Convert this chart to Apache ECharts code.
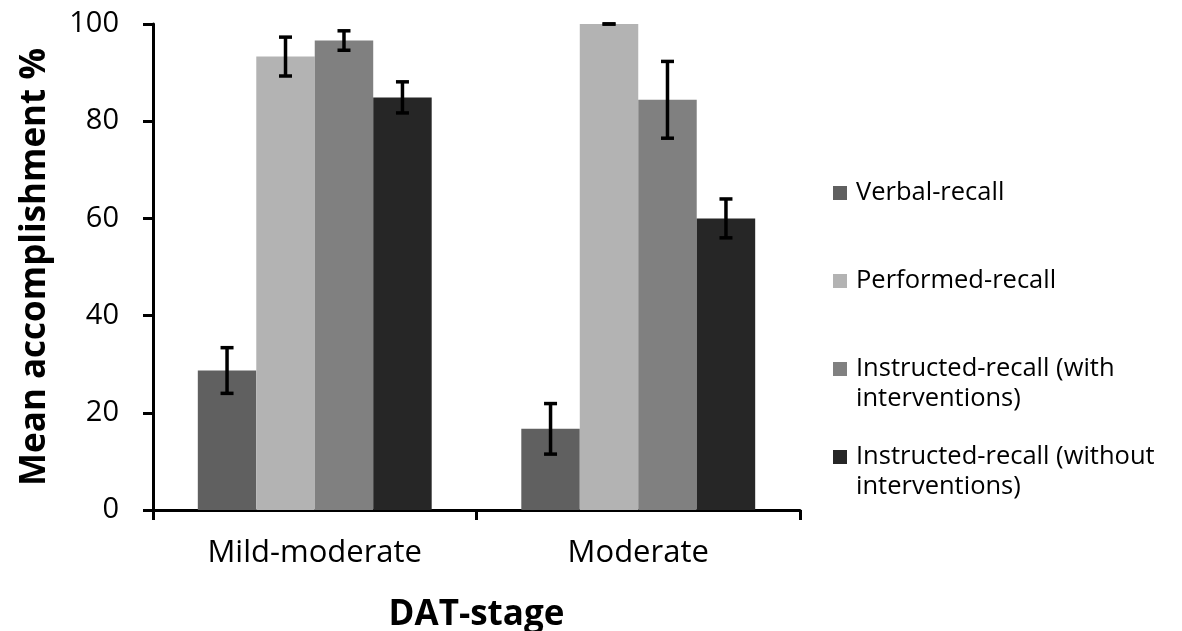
<!DOCTYPE html>
<html>
<head>
<meta charset="utf-8">
<script src="https://cdn.jsdelivr.net/npm/echarts@6/dist/echarts.min.js"></script>
<style>
  html, body { margin: 0; padding: 0; background: #ffffff; }
  #chart { width: 1182px; height: 631px; }
</style>
</head>
<body>
<div id="chart"></div>
<script>
// ---- data ----
const categories = ['Mild-moderate', 'Moderate'];
const seriesNames = [
  'Verbal-recall',
  'Performed-recall',
  'Instructed-recall (with\ninterventions)',
  'Instructed-recall (without\ninterventions)'
];
const verbalRecall = [28.7, 16.7];
const verbalRecallErr = [4.7, 5.2];
const performedRecall = [93.3, 100];
const performedRecallErr = [4.0, 0];
const instructedWith = [96.6, 84.4];
const instructedWithErr = [2.0, 7.9];
const instructedWithout = [84.9, 60.0];
const instructedWithoutErr = [3.2, 4.0];
const yTicks = [0, 20, 40, 60, 80, 100];

// ---- styling ----
const FONT = 'Open Sans';
const colors = ['#606060', '#b3b3b3', '#808080', '#262626'];
const CAT_GAP = 0.277;

const values = [verbalRecall, performedRecall, instructedWith, instructedWithout];
const errs = [verbalRecallErr, performedRecallErr, instructedWithErr, instructedWithoutErr];

const errData = [];
values.forEach((vals, si) => {
  vals.forEach((v, ci) => {
    errData.push([ci, si, v - errs[si][ci], v + errs[si][ci]]);
  });
});

const barSeries = values.map((vals, si) => ({
  name: seriesNames[si],
  type: 'bar',
  data: vals,
  barGap: '0%',
  barCategoryGap: (CAT_GAP * 100) + '%',
  itemStyle: { color: colors[si] },
  emphasis: { disabled: true },
  z: 2
}));

const errorSeries = {
  type: 'custom',
  name: 'err',
  data: errData,
  z: 10,
  silent: true,
  encode: { x: 0, y: [2, 3] },
  renderItem: function (params, api) {
    const ci = api.value(0);
    const si = api.value(1);
    const lo = api.coord([ci, api.value(2)]);
    const hi = api.coord([ci, api.value(3)]);
    const band = api.size([1, 0])[0];
    const barW = band * (1 - CAT_GAP) / 4;
    const x = lo[0] + (si - 1.5) * barW;
    const half = 6.5;
    const style = { stroke: '#000', lineWidth: 3.5, fill: null };
    return {
      type: 'group',
      children: [
        { type: 'line', shape: { x1: x, y1: lo[1], x2: x, y2: hi[1] }, style: style },
        { type: 'line', shape: { x1: x - half, y1: hi[1], x2: x + half, y2: hi[1] }, style: style },
        { type: 'line', shape: { x1: x - half, y1: lo[1], x2: x + half, y2: lo[1] }, style: style }
      ]
    };
  }
};

// icon centre y for each legend entry
const legendCentres = [193, 281, 369, 457];
const legends = seriesNames.map((name, i) => {
  const twoLine = name.indexOf('\n') >= 0;
  return {
    data: [name],
    left: 833,
    top: twoLine ? legendCentres[i] - 45 : legendCentres[i] - 15,
    orient: 'vertical',
    itemWidth: 14,
    itemHeight: 14,
    padding: 0,
    icon: 'rect',
    selectedMode: false,
    formatter: twoLine ? function (n) { return '\n' + n; } : '{name}',
    textStyle: {
      fontFamily: FONT,
      fontSize: 25.5,
      color: '#000',
      lineHeight: 30,
      padding: [0, 0, 0, 4]
    }
  };
});

const option = {
  backgroundColor: '#ffffff',
  animation: false,
  color: colors,
  legend: legends,
  grid: { left: 153, right: 382, top: 24, bottom: 121, outerBoundsMode: 'none', containLabel: false },
  xAxis: {
    type: 'category',
    data: categories,
    name: 'DAT-stage',
    nameLocation: 'middle',
    nameGap: 88,
    nameTextStyle: { fontFamily: FONT, fontSize: 35, fontWeight: 'bold', color: '#000' },
    axisLine: { lineStyle: { color: '#000', width: 3 } },
    axisTick: { show: true, length: 10, interval: 0, lineStyle: { color: '#000', width: 3 } },
    axisLabel: { fontFamily: FONT, fontSize: 31, color: '#000', margin: 28, interval: 0 },
    splitLine: { show: false }
  },
  yAxis: {
    type: 'value',
    min: yTicks[0],
    max: yTicks[yTicks.length - 1],
    interval: yTicks[1] - yTicks[0],
    name: 'Mean accomplishment %',
    nameLocation: 'middle',
    nameGap: 100,
    nameTextStyle: { fontFamily: FONT, fontSize: 35, fontWeight: 'bold', color: '#000' },
    axisLine: { show: true, lineStyle: { color: '#000', width: 3 } },
    axisTick: { show: true, length: 10, lineStyle: { color: '#000', width: 3 } },
    axisLabel: { fontFamily: FONT, fontSize: 29, color: '#000', margin: 34 },
    splitLine: { show: false }
  },
  series: barSeries.concat([errorSeries])
};

const chart = echarts.init(document.getElementById('chart'), null, { renderer: 'canvas' });
chart.setOption(option);
</script>
</body>
</html>
